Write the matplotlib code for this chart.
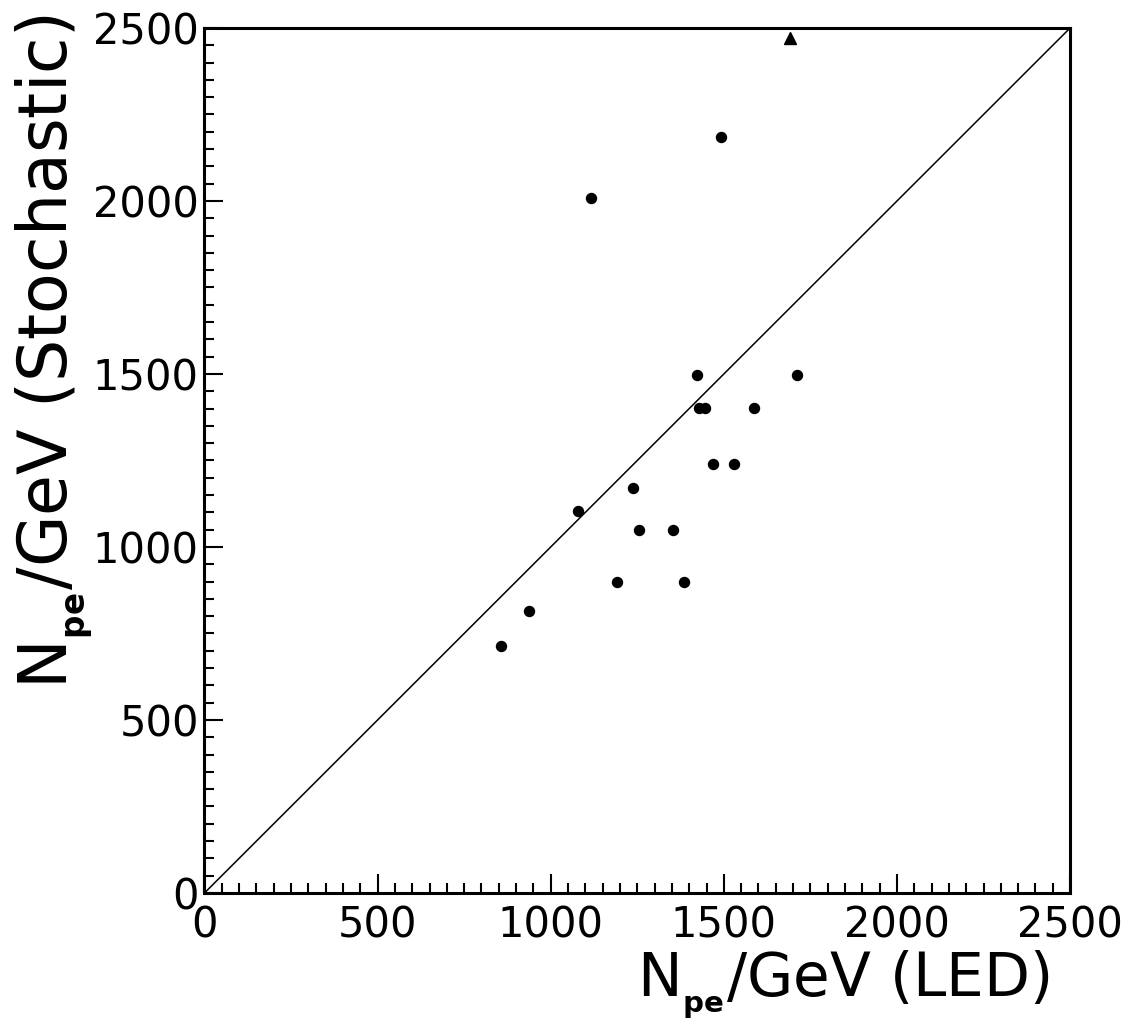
import matplotlib
matplotlib.use('Agg')
import matplotlib.pyplot as plt
from matplotlib.ticker import MultipleLocator

# Npe/GeV from LED vs from stochastic term
led_circle = [856, 936, 1080, 1116, 1192, 1239, 1256, 1354, 1385, 1423,
              1428, 1446, 1470, 1492, 1529, 1587, 1711]
stoch_circle = [715, 815, 1105, 2010, 898, 1170, 1048, 1048, 898, 1498,
                1402, 1402, 1240, 2185, 1240, 1402, 1498]
led_triangle = [1691]
stoch_triangle = [2472]
axis_max = 2500

fig = plt.figure(figsize=(11.36, 10.21), dpi=100)
ax = fig.add_axes([0.180, 0.1254, 0.762, 0.8472])

ax.plot([0, axis_max], [0, axis_max], color='black', linewidth=1.1)
ax.plot(led_circle, stoch_circle, 'o', color='black', markersize=7.2)
ax.plot(led_triangle, stoch_triangle, '^', color='black', markersize=9)

ax.set_xlim(0, axis_max)
ax.set_ylim(0, axis_max)
ax.xaxis.set_major_locator(MultipleLocator(500))
ax.xaxis.set_minor_locator(MultipleLocator(50))
ax.yaxis.set_major_locator(MultipleLocator(500))
ax.yaxis.set_minor_locator(MultipleLocator(50))

for spine in ax.spines.values():
    spine.set_linewidth(2.2)

ax.tick_params(which='both', direction='in', top=False, right=False, width=1.5)
ax.tick_params(which='major', length=14, labelsize=30)
ax.tick_params(which='minor', length=7)
ax.tick_params(axis='x', pad=8)
ax.tick_params(axis='y', pad=4)

# ROOT-style axis titles, aligned to the axis end; small bold "pe" subscript
xtitle = r'N$_{{}_{\bf pe}}$/GeV (LED)'
ytitle = r'N$_{{}_{\bf pe}}$/GeV (Stochastic)'
ax.text(0.977, -0.119, xtitle, transform=ax.transAxes,
        fontsize=43, ha='right', va='baseline')
ax.text(-0.158, 1.015, ytitle, transform=ax.transAxes,
        fontsize=48, ha='right', va='baseline', rotation=90, rotation_mode='anchor')

fig.savefig('out.png', dpi=100)
